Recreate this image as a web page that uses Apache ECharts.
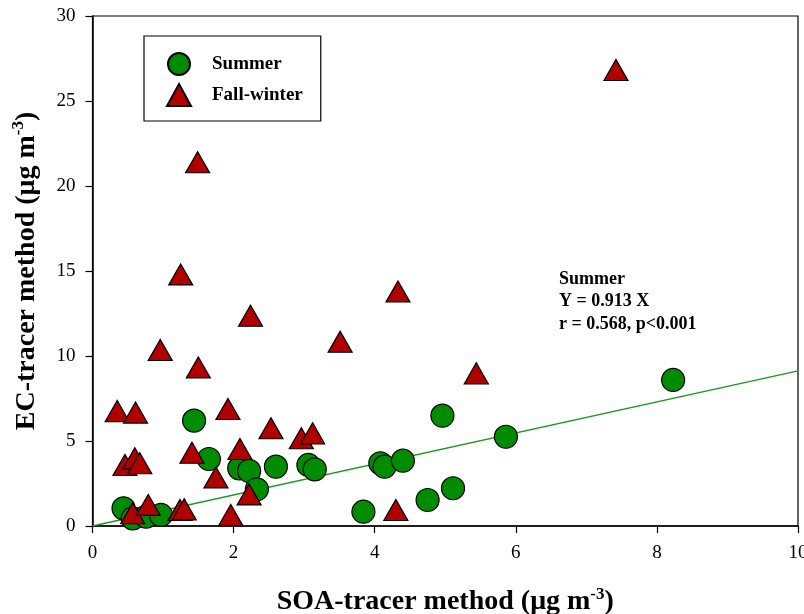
<!DOCTYPE html>
<html>
<head>
<meta charset="utf-8">
<script src="https://cdn.jsdelivr.net/npm/echarts@6/dist/echarts.min.js"></script>
<style>html,body{margin:0;padding:0;background:#fff}#c{width:804px;height:614px}</style>
</head>
<body>
<div id="c"></div>
<script>
// Data
var summerX = [0.44, 0.57, 0.76, 0.97, 1.44, 1.65, 2.08, 2.22, 2.33, 2.60, 3.06, 3.15, 3.84, 4.08, 4.14, 4.40, 4.75, 4.96, 5.11, 5.86, 8.23];
var summerY = [1.04, 0.45, 0.55, 0.65, 6.20, 3.94, 3.39, 3.24, 2.16, 3.49, 3.59, 3.33, 0.84, 3.69, 3.49, 3.84, 1.53, 6.49, 2.22, 5.25, 8.59];
var fallX = [0.96, 1.50, 0.35, 0.61, 1.92, 2.53, 2.96, 3.12, 0.46, 0.60, 0.67, 1.41, 2.09, 1.75, 2.22, 1.96, 0.57, 0.79, 1.24, 1.30, 3.51, 5.44, 4.30, 7.42, 1.49, 1.25, 2.24, 4.33];
var fallY = [10.35, 9.33, 6.76, 6.67, 6.88, 5.75, 5.16, 5.45, 3.59, 3.98, 3.69, 4.31, 4.53, 2.86, 1.86, 0.65, 0.75, 1.24, 0.94, 0.98, 10.84, 8.98, 0.94, 26.82, 21.4, 14.8, 12.37, 13.8];
var trendX = [0, 10];
var trendY = [0, 9.13];
var seriesNames = ['Summer', 'Fall-winter'];
var annotationLines = ['Summer', 'Y = 0.913 X', 'r = 0.568, p<0.001'];

function pairs(xs, ys) { return xs.map(function (x, i) { return [x, ys[i]]; }); }

var FONT = "'Liberation Serif', 'Times New Roman', serif";
var titleRich = {
  a: { fontFamily: FONT, fontWeight: 'bold', fontSize: 28, color: '#000' },
  s: { fontFamily: FONT, fontWeight: 'bold', fontSize: 17, color: '#000', padding: [0, 0, 15, 0] }
};
var chart = echarts.init(document.getElementById('c'), null, { renderer: 'canvas' });
chart.setOption({
  animation: false,
  backgroundColor: '#fff',
  grid: { left: 92.5, right: 6, top: 16, bottom: 88, outerBoundsMode: 'none', containLabel: false,
          show: true, borderColor: '#000', borderWidth: 1.2, backgroundColor: 'transparent' },
  legend: {
    data: seriesNames,
    orient: 'vertical',
    left: 144, top: 36,
    padding: [16, 18, 14, 22],
    itemWidth: 24, itemHeight: 22, itemGap: 7,
    borderColor: '#000', borderWidth: 1.2,
    textStyle: { fontFamily: FONT, fontWeight: 'bold', fontSize: 19, color: '#000', padding: [0, 0, 0, 16] }
  },
  xAxis: {
    type: 'value', min: 0, max: 10, interval: 2,
    name: '{a|SOA-tracer method (μg m}{s|-3}{a|)}',
    nameLocation: 'middle', nameGap: 60,
    nameTextStyle: { rich: titleRich },
    splitLine: { show: false },
    axisLine: { onZero: false, lineStyle: { color: '#000', width: 1.5 } },
    axisTick: { inside: false, length: 7, lineStyle: { color: '#000', width: 1.2 } },
    axisLabel: { fontFamily: FONT, fontSize: 19, color: '#000', margin: 18, hideOverlap: false },
  },
  yAxis: {
    type: 'value', min: 0, max: 30, interval: 5,
    name: '{a|EC-tracer method (μg m}{s|-3}{a|)}',
    nameLocation: 'middle', nameGap: 50,
    nameTextStyle: { rich: titleRich },
    splitLine: { show: false },
    axisLine: { onZero: false, lineStyle: { color: '#000', width: 1.5 } },
    axisTick: { inside: false, length: 7, lineStyle: { color: '#000', width: 1.2 } },
    axisLabel: { fontFamily: FONT, fontSize: 19, color: '#000', margin: 17 }
  },
  graphic: [{
    type: 'text', left: 559, top: 268, z: 100,
    style: { text: annotationLines.join('\n'), font: 'bold 18px ' + FONT, fill: '#000', lineHeight: 22.5 }
  }],
  series: [
    {
      name: 'trend', type: 'line', data: pairs(trendX, trendY), symbol: 'none', z: 1,
      lineStyle: { color: '#1a9a1a', width: 1.3 }, silent: true
    },
    {
      name: seriesNames[0], type: 'scatter', data: pairs(summerX, summerY), symbol: 'circle', symbolSize: 23, z: 2,
      itemStyle: { color: '#008C00', borderColor: '#000', borderWidth: 1.2, opacity: 1 }
    },
    {
      name: seriesNames[1], type: 'scatter', data: pairs(fallX, fallY), symbol: 'triangle', symbolSize: [24, 21], z: 3,
      itemStyle: { color: '#B00000', borderColor: '#000', borderWidth: 1.2, opacity: 1 }
    }
  ]
});
</script>
</body>
</html>
